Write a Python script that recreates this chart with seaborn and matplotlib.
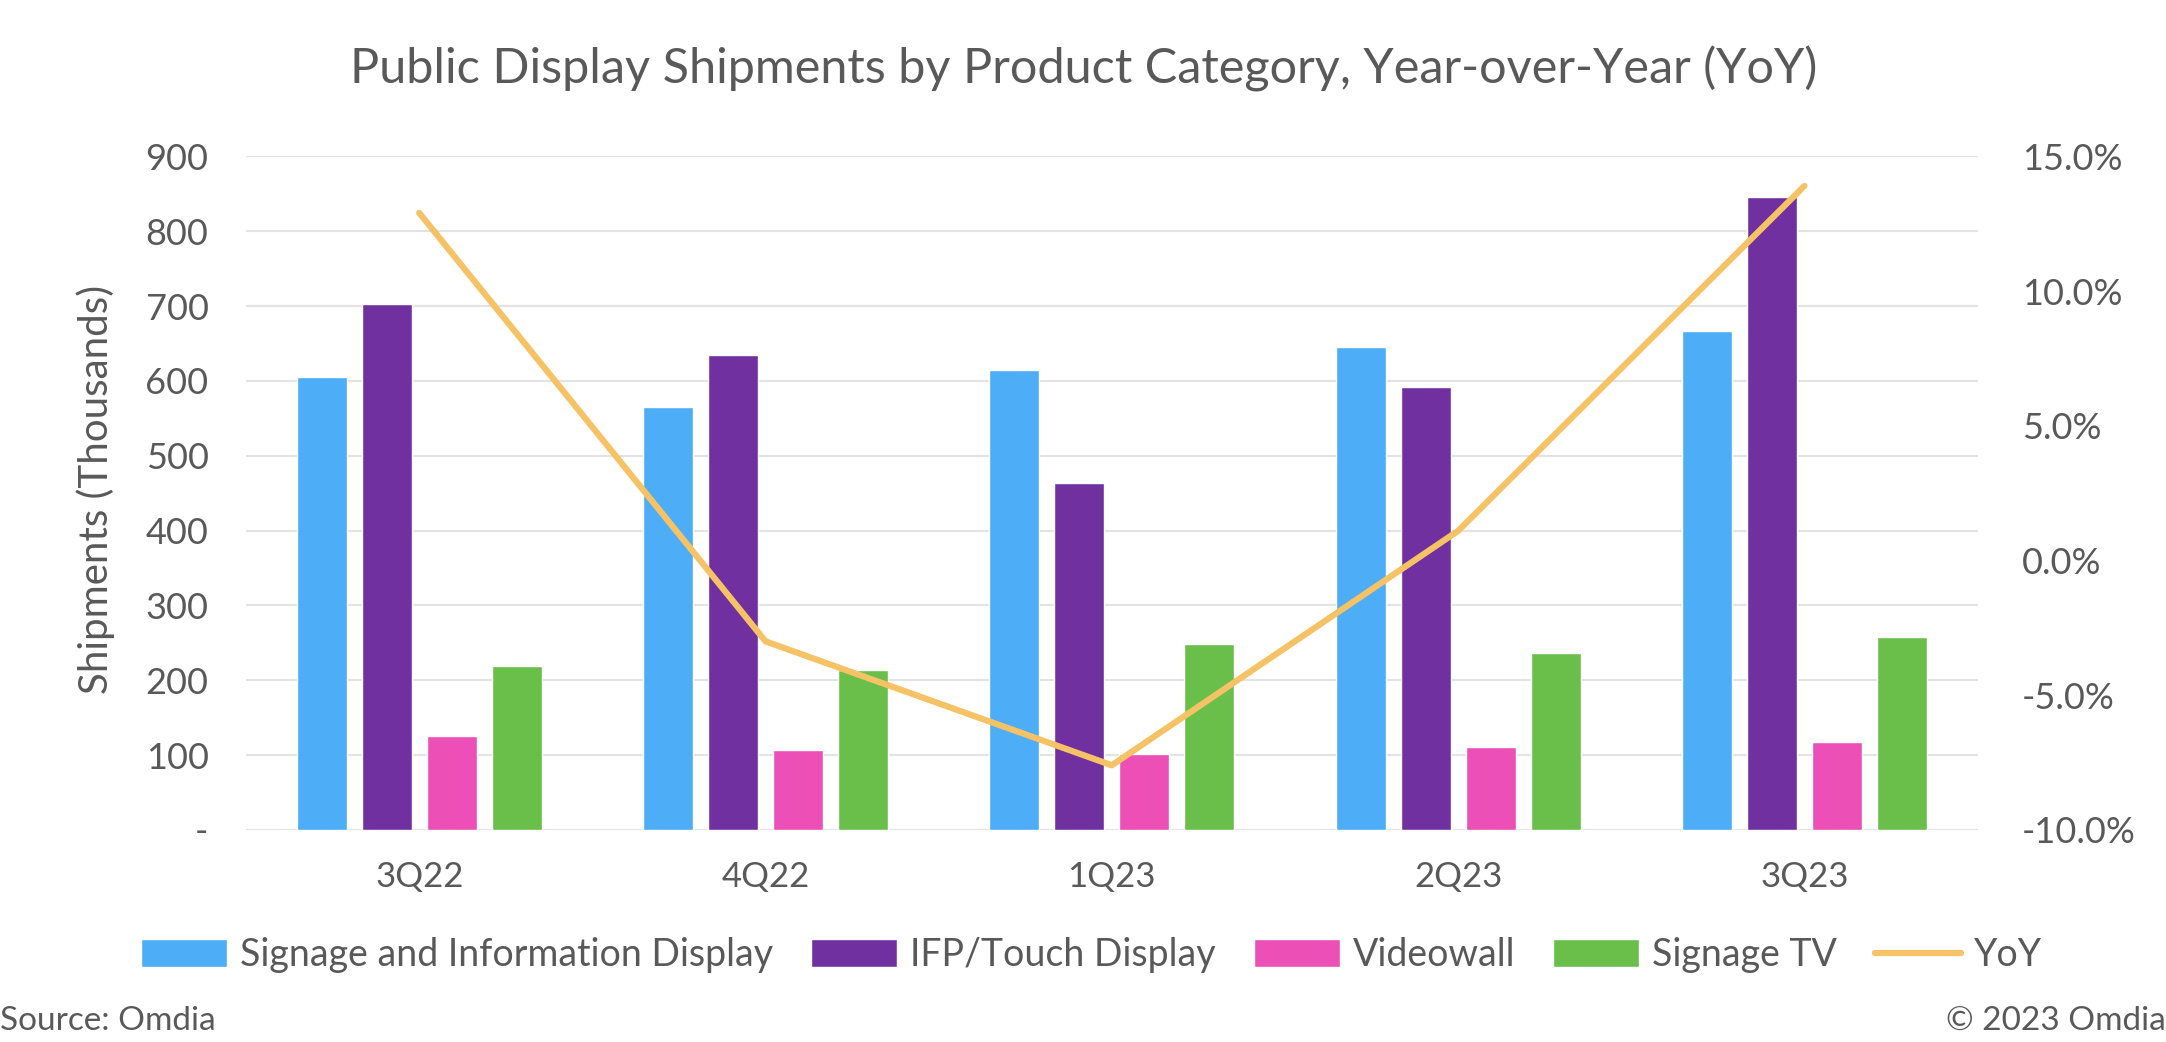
import pandas as pd
import numpy as np
import matplotlib.pyplot as plt
import seaborn as sns
from matplotlib.patches import Patch
from matplotlib.lines import Line2D

# values (thousands of units / YoY %)
quarters = ['3Q22', '4Q22', '1Q23', '2Q23', '3Q23']
signage_info = [605, 565, 614, 645, 666]
ifp_touch = [703, 634, 463, 592, 845]
videowall = [125, 107, 101, 111, 118]
signage_tv = [219, 214, 249, 236, 258]
yoy = [12.9, -3.0, -7.6, 1.1, 13.9]

series_names = ['Signage and Information Display', 'IFP/Touch Display', 'Videowall', 'Signage TV']
colors = ['#4DADF7', '#7030A0', '#EC4FB5', '#6ABF4B']
line_color = '#F5C265'
text_color = '#595959'

# long format table for seaborn
df = pd.DataFrame({
    'Quarter': quarters * 4,
    'Category': np.repeat(series_names, len(quarters)),
    'Shipments': signage_info + ifp_touch + videowall + signage_tv,
})

sns.set_style('white')
plt.rcParams['font.family'] = ['Lato', 'DejaVu Sans']

fig = plt.figure(figsize=(21.66, 10.42), dpi=100)
ax = fig.add_axes([0.1136, 0.2035, 0.7994, 0.6465])

sns.barplot(data=df, x='Quarter', y='Shipments', hue='Category', hue_order=series_names,
            palette=colors, width=0.75, gap=0.23, ax=ax, legend=False, saturation=1)

ax.set_ylim(0, 900)
ax.set_yticks(range(0, 901, 100))
ax.set_yticklabels(['-'] + [str(v) for v in range(100, 901, 100)])
ax.yaxis.grid(True, color='#E3E3E3', linewidth=1.5)
ax.set_axisbelow(True)
ax.set_xlabel('')
ax.set_ylabel('')
ax.set_xlim(-0.5, len(quarters) - 0.5)
ax.tick_params(axis='y', length=0, pad=27, labelsize=26, labelcolor=text_color)
ax.tick_params(axis='x', length=0, pad=22, labelsize=25, labelcolor=text_color)
sns.despine(ax=ax, left=True, bottom=True)

# YoY line on secondary axis
ax2 = ax.twinx()
sns.lineplot(x=np.arange(len(quarters)), y=yoy, ax=ax2, color=line_color, linewidth=4.5)
ax2.set_ylim(-10, 15)
ax2.set_yticks(range(-10, 16, 5))
ax2.set_yticklabels([f'{v:.1f}%' for v in range(-10, 16, 5)])
ax2.tick_params(axis='y', length=0, pad=32, labelsize=26, labelcolor=text_color)
ax2.grid(False)
for s in ax2.spines.values():
    s.set_visible(False)

fig.text(0.5005, 0.934, 'Public Display Shipments by Product Category, Year-over-Year (YoY)',
         ha='center', va='center', fontsize=35, color=text_color)
fig.text(0.0444, 0.53, 'Shipments (Thousands)', rotation=90, ha='center', va='center',
         fontsize=29, color=text_color)

handles = [Patch(facecolor=c, label=n) for c, n in zip(colors, series_names)]
handles.append(Line2D([0], [0], color=line_color, linewidth=4.5, label='YoY'))
fig.legend(handles=handles, loc='center', bbox_to_anchor=(0.504, 0.0835), ncol=5,
           frameon=False, fontsize=27, handlelength=2.3, handleheight=0.75,
           columnspacing=1.0, handletextpad=0.35, labelcolor=text_color)

fig.text(0.0, 0.02, 'Source: Omdia', ha='left', va='center', fontsize=24, color=text_color)
fig.text(1.0, 0.02, '\u00a9 2023 Omdia', ha='right', va='center', fontsize=24, color=text_color)

fig.savefig('out.png', dpi=100, facecolor='white')
